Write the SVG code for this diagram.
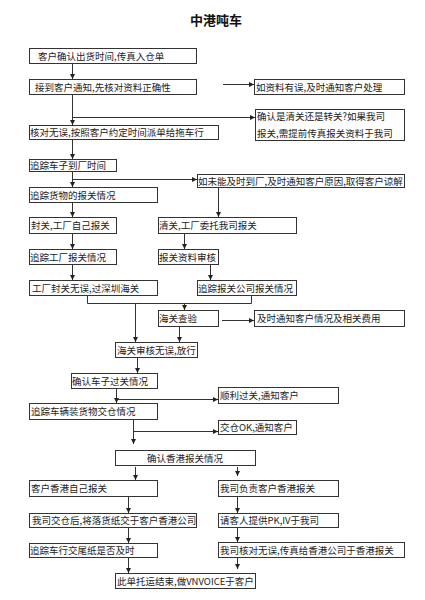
<svg xmlns="http://www.w3.org/2000/svg" width="425" height="600" viewBox="0 0 425 600">
<defs>
<marker id="ah" markerWidth="6" markerHeight="6" refX="5" refY="3" orient="auto" markerUnits="userSpaceOnUse">
<path d="M0,0.5 L5,3 L0,5.5 Z" fill="#222"/>
</marker>
<style>
.b{fill:#fff;stroke:#333;stroke-width:1}
.t{font-family:"Noto Sans CJK SC","Liberation Sans",sans-serif;font-size:9.5px;fill:#222}
.c line,.c polyline{stroke:#333;stroke-width:1;fill:none}
.a{marker-end:url(#ah)}
</style>
</defs>
<rect width="425" height="600" fill="#fff"/>
<text x="216" y="25" text-anchor="middle" style="font-family:'Noto Sans CJK SC',sans-serif;font-size:13px;font-weight:bold;fill:#111">中港吨车</text>

<g id="n1"><rect class="b" x="29.5" y="48.5" width="167" height="15"/><text class="t" x="38" y="59.5">客户确认出货时间,传真入仓单</text></g>
<g id="n2"><rect class="b" x="29.5" y="79.5" width="167" height="15"/><text class="t" x="35" y="90.5">接到客户通知,先核对资料正确性</text></g>
<g id="n3"><rect class="b" x="254.5" y="79.5" width="150" height="15"/><text class="t" x="256" y="90.5">如资料有误,及时通知客户处理</text></g>
<g id="n4"><rect class="b" x="255.5" y="109.5" width="149" height="31"/><text class="t" x="257" y="120">确认是清关还是转关?如果我司</text><text class="t" x="257" y="137">报关,需提前传真报关资料于我司</text></g>
<g id="n5"><rect class="b" x="29.5" y="125.5" width="189" height="14"/><text class="t" x="30" y="136">核对无误,按照客户约定时间派单给拖车行</text></g>
<g id="n6"><rect class="b" x="29.5" y="159.5" width="87" height="12"/><text class="t" x="30" y="169">追踪车子到厂时间</text></g>
<g id="n7"><rect class="b" x="197.5" y="174.5" width="207" height="13"/><text class="t" x="198" y="184.5">如未能及时到厂,及时通知客户原因,取得客户谅解</text></g>
<g id="n8"><rect class="b" x="29.5" y="187.5" width="128" height="15"/><text class="t" x="30" y="198.5">追踪货物的报关情况</text></g>
<g id="n9"><rect class="b" x="29.5" y="217.5" width="87" height="16"/><text class="t" x="31" y="229">封关,工厂自己报关</text></g>
<g id="n10"><rect class="b" x="158.5" y="217.5" width="138" height="16"/><text class="t" x="159" y="229">清关,工厂委托我司报关</text></g>
<g id="n11"><rect class="b" x="29.5" y="249.5" width="87" height="15"/><text class="t" x="30" y="260.5">追踪工厂报关情况</text></g>
<g id="n12"><rect class="b" x="158.5" y="249.5" width="60" height="15"/><text class="t" x="159" y="260.5">报关资料审核</text></g>
<g id="n13"><rect class="b" x="29.5" y="280.5" width="128" height="15"/><text class="t" x="32" y="291.5">工厂封关无误,过深圳海关</text></g>
<g id="n14"><rect class="b" x="197.5" y="280.5" width="99" height="15"/><text class="t" x="198" y="291.5">追踪报关公司报关情况</text></g>
<g id="n15"><rect class="b" x="158.5" y="310.5" width="60" height="16"/><text class="t" x="159" y="322">海关查验</text></g>
<g id="n16"><rect class="b" x="254.5" y="310.5" width="150" height="16"/><text class="t" x="257" y="322">及时通知客户情况及相关费用</text></g>
<g id="n17"><rect class="b" x="115.5" y="342.5" width="82" height="15"/><text class="t" x="117" y="353.5">海关审核无误,放行</text></g>
<g id="n18"><rect class="b" x="71.5" y="373.5" width="86" height="15"/><text class="t" x="72" y="384.5">确认车子过关情况</text></g>
<g id="n19"><rect class="b" x="218.5" y="387.5" width="120" height="16"/><text class="t" x="220" y="399">顺利过关,通知客户</text></g>
<g id="n20"><rect class="b" x="29.5" y="403.5" width="128" height="16"/><text class="t" x="31" y="415">追踪车辆装货物交仓情况</text></g>
<g id="n21"><rect class="b" x="218.5" y="420.5" width="78" height="14"/><text class="t" x="220" y="431">交仓OK,通知客户</text></g>
<g id="n22"><rect class="b" x="115.5" y="450.5" width="140" height="15"/><text class="t" x="185" y="461.5" text-anchor="middle">确认香港报关情况</text></g>
<g id="n23"><rect class="b" x="29.5" y="480.5" width="128" height="16"/><text class="t" x="31" y="492">客户香港自己报关</text></g>
<g id="n24"><rect class="b" x="218.5" y="480.5" width="120" height="16"/><text class="t" x="220" y="492">我司负责客户香港报关</text></g>
<g id="n25"><rect class="b" x="29.5" y="513.5" width="167" height="14"/><text class="t" x="32" y="524">我司交仓后,将落货纸交于客户香港公司</text></g>
<g id="n26"><rect class="b" x="218.5" y="513.5" width="120" height="14"/><text class="t" x="220" y="524">请客人提供PK,IV于我司</text></g>
<g id="n27"><rect class="b" x="29.5" y="543.5" width="128" height="14"/><text class="t" x="30" y="554">追踪车行交尾纸是否及时</text></g>
<g id="n28"><rect class="b" x="218.5" y="542.5" width="186" height="15"/><text class="t" x="220" y="553.5">我司核对无误,传真给香港公司于香港报关</text></g>
<g id="n29"><rect class="b" x="115.5" y="573.5" width="140" height="15"/><text class="t" x="117" y="584.5">此单托运结束,做VNVOICE于客户</text></g>

<g id="connectors" class="c">
<line class="a" x1="72.5" y1="64" x2="72.5" y2="79"/>
<line class="a" x1="223" y1="84.5" x2="254" y2="84.5"/>
<line class="a" x1="72.5" y1="95" x2="72.5" y2="125"/>
<line class="a" x1="72.5" y1="117.5" x2="255" y2="117.5"/>
<line class="a" x1="72.5" y1="140" x2="72.5" y2="159"/>
<line class="a" x1="72.5" y1="172" x2="72.5" y2="187"/>
<line class="a" x1="72.5" y1="179.5" x2="197" y2="179.5"/>
<line class="a" x1="218.5" y1="188" x2="218.5" y2="217"/>
<line class="a" x1="72.5" y1="203" x2="72.5" y2="217"/>
<line class="a" x1="72.5" y1="234" x2="72.5" y2="249"/>
<line class="a" x1="184.5" y1="234" x2="184.5" y2="249"/>
<line class="a" x1="72.5" y1="265" x2="72.5" y2="280"/>
<line class="a" x1="210.5" y1="265" x2="210.5" y2="280"/>
<polyline points="87.5,296 87.5,303.5 251.5,303.5 251.5,296"/>
<line class="a" x1="184.5" y1="303.5" x2="184.5" y2="310"/>
<line class="a" x1="135.5" y1="303.5" x2="135.5" y2="342"/>
<line class="a" x1="222" y1="320.5" x2="254" y2="320.5"/>
<line class="a" x1="179.5" y1="327" x2="179.5" y2="342"/>
<line class="a" x1="137.5" y1="358" x2="137.5" y2="373"/>
<line class="a" x1="116.5" y1="389" x2="116.5" y2="403"/>
<line class="a" x1="116.5" y1="399.5" x2="218" y2="399.5"/>
<line class="a" x1="133.5" y1="420" x2="133.5" y2="444"/>
<line class="a" x1="133.5" y1="431.5" x2="218" y2="431.5"/>
<line class="a" x1="135.5" y1="467" x2="135.5" y2="480"/>
<line class="a" x1="237.5" y1="467" x2="237.5" y2="476"/>
<line class="a" x1="128.5" y1="497" x2="128.5" y2="513"/>
<line class="a" x1="237.5" y1="497" x2="237.5" y2="513"/>
<line class="a" x1="128.5" y1="528" x2="128.5" y2="543"/>
<line class="a" x1="237.5" y1="528" x2="237.5" y2="542"/>
<line class="a" x1="128.5" y1="558" x2="128.5" y2="573"/>
<line class="a" x1="237.5" y1="558" x2="237.5" y2="569"/>
</g>
</svg>
